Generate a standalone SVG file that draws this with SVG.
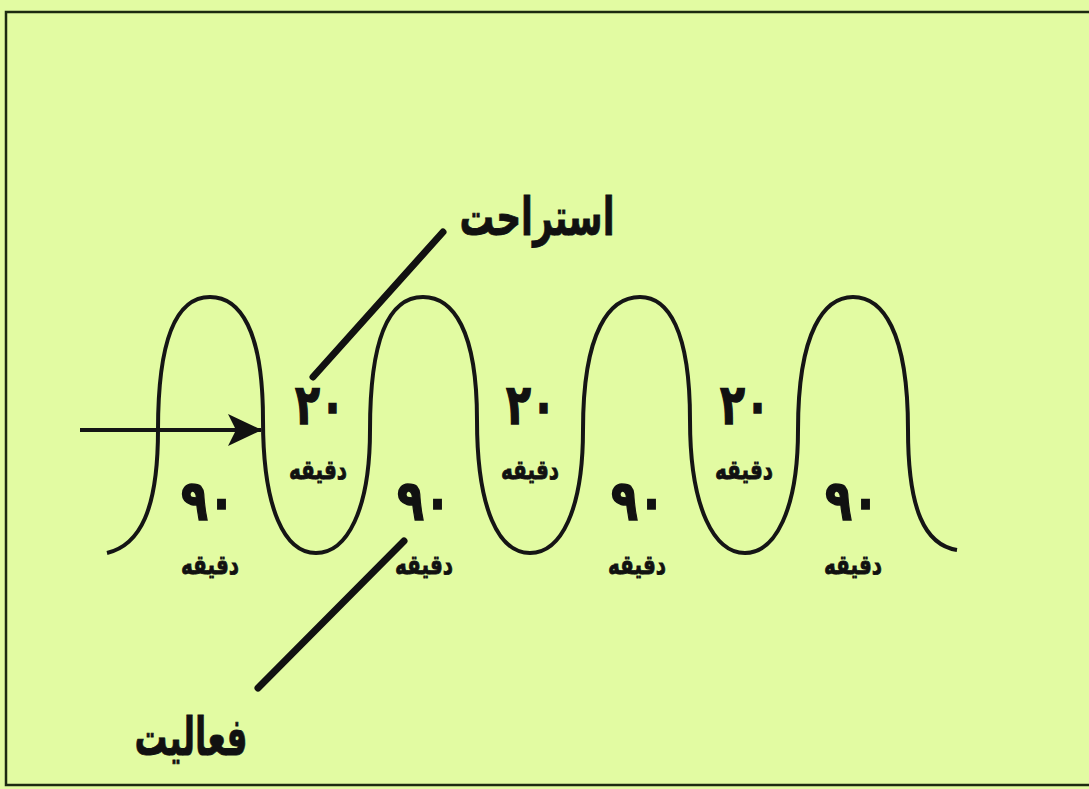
<svg xmlns="http://www.w3.org/2000/svg" width="1089" height="789" viewBox="0 0 1089 789">
<defs>
<style>
.lbl{font-family:"DejaVu Sans",sans-serif;font-weight:bold;fill:#111;stroke:#111;stroke-width:0.8;text-anchor:middle}
.big{font-size:52px}
.num{font-size:56px;stroke-width:1.5}
.unit{font-size:27px}
.lead{stroke:#111;stroke-width:7;stroke-linecap:round;fill:none}
</style>
<marker id="ah" viewBox="0 0 34 34" refX="33" refY="17" markerWidth="34" markerHeight="34" markerUnits="userSpaceOnUse" orient="auto">
<path d="M0,1 L34,17 L0,33 L8,17 Z" fill="#111"/>
</marker>
</defs>
<rect x="0" y="0" width="1089" height="789" fill="#e2fba2"/>
<rect x="6" y="12" width="1100" height="773" fill="#e2fba2" stroke="#1c2a10" stroke-width="2.5"/>
<g id="wave">
<path d="M107,553 C140,545 158,510 158,430 C158,330 180,297 210,297 C240,297 263,330 263,420 C263,510 285,553 316,553 C347,553 370,510 370,430 C370,330 393,297 423,297 C453,297 477,330 477,420 C477,510 499,553 530,553 C561,553 583,510 583,430 C583,330 610,297 640,297 C668,297 690,330 690,420 C690,510 715,553 745,553 C775,553 798,510 798,430 C798,330 825,297 853,297 C882,297 908,330 908,430 C908,510 925,545 957,550" fill="none" stroke="#151515" stroke-width="4"/>
</g>
<g id="connectors">
<line x1="80" y1="430" x2="261" y2="430" stroke="#151515" stroke-width="4" marker-end="url(#ah)"/>
<line class="lead" x1="313" y1="377" x2="443" y2="232"/>
<line class="lead" x1="404" y1="541" x2="258" y2="688"/>
</g>
<g id="rest-label"><text class="lbl big" x="537" y="235" textLength="155" lengthAdjust="spacingAndGlyphs">استراحت</text></g>
<g id="activity-label"><text class="lbl big" x="191" y="755" textLength="113" lengthAdjust="spacingAndGlyphs">فعالیت</text></g>
<g id="rest1"><text class="lbl num" x="320" y="424" textLength="50" lengthAdjust="spacingAndGlyphs">۲۰</text><text class="lbl unit" x="318" y="479" textLength="58" lengthAdjust="spacingAndGlyphs">دقیقه</text></g>
<g id="rest2"><text class="lbl num" x="531" y="424" textLength="50" lengthAdjust="spacingAndGlyphs">۲۰</text><text class="lbl unit" x="530" y="479" textLength="58" lengthAdjust="spacingAndGlyphs">دقیقه</text></g>
<g id="rest3"><text class="lbl num" x="745" y="424" textLength="50" lengthAdjust="spacingAndGlyphs">۲۰</text><text class="lbl unit" x="744" y="479" textLength="58" lengthAdjust="spacingAndGlyphs">دقیقه</text></g>
<g id="act1"><text class="lbl num" x="208" y="520" textLength="54" lengthAdjust="spacingAndGlyphs">۹۰</text><text class="lbl unit" x="210" y="574" textLength="58" lengthAdjust="spacingAndGlyphs">دقیقه</text></g>
<g id="act2"><text class="lbl num" x="424" y="520" textLength="54" lengthAdjust="spacingAndGlyphs">۹۰</text><text class="lbl unit" x="424" y="574" textLength="58" lengthAdjust="spacingAndGlyphs">دقیقه</text></g>
<g id="act3"><text class="lbl num" x="638" y="520" textLength="54" lengthAdjust="spacingAndGlyphs">۹۰</text><text class="lbl unit" x="637" y="574" textLength="58" lengthAdjust="spacingAndGlyphs">دقیقه</text></g>
<g id="act4"><text class="lbl num" x="852" y="520" textLength="54" lengthAdjust="spacingAndGlyphs">۹۰</text><text class="lbl unit" x="853" y="574" textLength="58" lengthAdjust="spacingAndGlyphs">دقیقه</text></g>
</svg>
